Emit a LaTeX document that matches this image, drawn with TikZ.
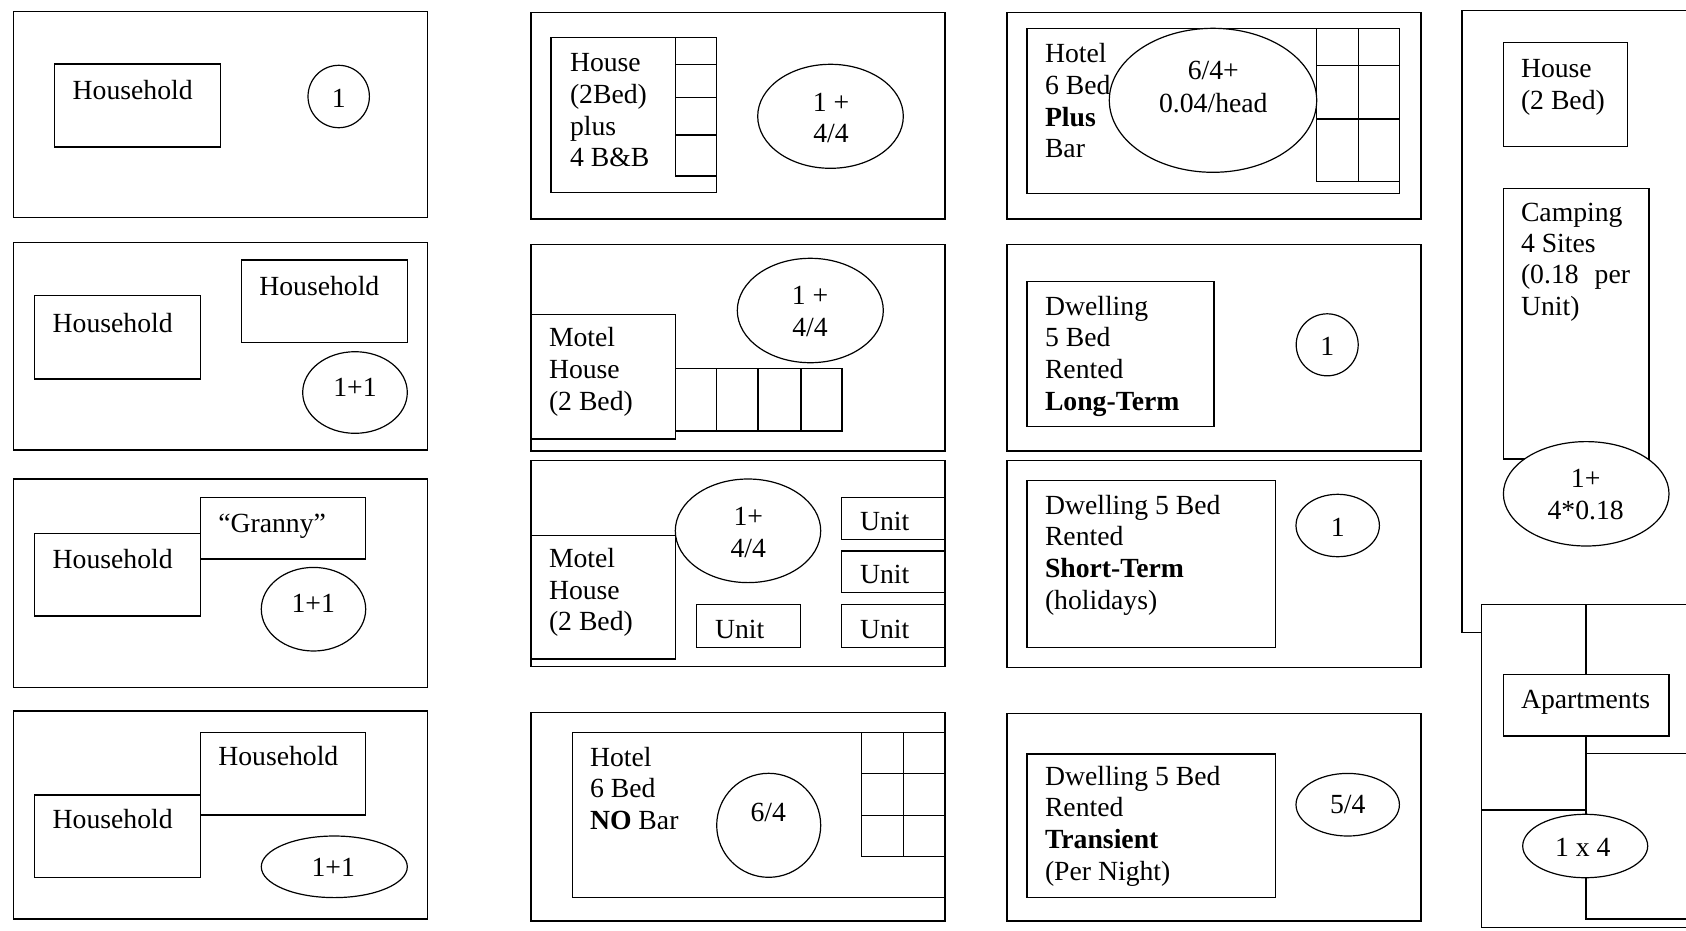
\documentclass[tikz,border=0pt]{standalone}
\usepackage{fontspec}
\setmainfont{Liberation Serif}
% multi-line labels whose reference point is the first baseline
\newcommand{\blockL}[1]{\begin{tabular}[t]{@{}l@{}}#1\end{tabular}}
\newcommand{\blockC}[1]{\begin{tabular}[t]{@{}c@{}}#1\end{tabular}}
\tikzset{
  plan/.style={line width=1.2pt, draw=black},
  room/.style={plan, fill=white},
  oval/.style={plan, fill=white},
  txt/.style={anchor=base west, inner sep=0pt, outer sep=0pt,
              font=\fontsize{27.7}{31.7}\selectfont},
  ctxt/.style={txt, anchor=base},
}
\begin{document}
\begin{tikzpicture}[x=1pt,y=-1pt]
\useasboundingbox (0,0) rectangle (1686,930);
\clip (0,0) rectangle (1686,930);

% ---------- column 1: households ----------
\draw[plan] (13.3,11.5) rectangle (427.3,217.5);
\draw[room] (54.7,64) rectangle (220.3,147);
\node[txt] (hhA) at (72.7,99) {Household};
\filldraw[oval] (338.7,96.5) ellipse [x radius=30.7pt, y radius=31.2pt];
\node[ctxt] (vA) at (338.7,107) {1};

\draw[plan] (13.3,242.7) rectangle (427.3,450);
\draw[room] (34.7,295.7) rectangle (200.3,379);
\node[txt] (hhB1) at (52.7,332.3) {Household};
\draw[room] (241.3,260) rectangle (407.3,342.7);
\node[txt] (hhB2) at (259.3,295.7) {Household};
\filldraw[oval] (355,392.5) ellipse [x radius=52.3pt, y radius=40.8pt];
\node[ctxt] (vB) at (355,396.7) {1+1};

\draw[plan] (13.3,479) rectangle (427.3,687.3);
\draw[room] (34.7,533.7) rectangle (200.3,616);
\node[txt] (hhC) at (52.7,568.3) {Household};
\draw[room] (200.3,497.7) rectangle (365.7,559);
\node[txt] (granny) at (218.3,532.7) {“Granny”};
\filldraw[oval] (313.5,609.2) ellipse [x radius=52.2pt, y radius=41.8pt];
\node[ctxt] (vC) at (313.3,612.7) {1+1};

\draw[plan] (13.3,711) rectangle (427.3,919);
\draw[room] (34.7,795) rectangle (200.3,877.3);
\node[txt] (hhD1) at (52.7,828.3) {Household};
\draw[room] (200.3,732.3) rectangle (365.7,815);
\node[txt] (hhD2) at (218.3,765.7) {Household};
\filldraw[oval] (334.3,866.8) ellipse [x radius=73pt, y radius=30.8pt];
\node[ctxt] (vD) at (333.3,876.7) {1+1};

% ---------- column 2: B&B, motels, hotel ----------
\draw[plan] (531,12.3) rectangle (945,219);
\draw[room] (551,37.7) rectangle (716.7,192.3);
\draw[plan] (675.3,37.7) -- (675.3,176) -- (716.7,176);
\foreach \yy in {64.3,97.7,135} \draw[plan] (675.3,\yy) -- (716.7,\yy);
\node[txt] (bnb) at (570,71.7) {\blockL{House\\(2Bed)\\plus\\4 B\&B}};
\filldraw[oval] (830.5,116.3) ellipse [x radius=72.8pt, y radius=52pt];
\node[ctxt] (vE) at (831,111) {\blockC{1 +\\4/4}};

\draw[plan] (531,244.3) rectangle (945,451);
\draw[room] (531,314.3) rectangle (675.3,439);
\node[txt] (motelA) at (549,346.7) {\blockL{Motel\\House\\(2 Bed)}};
\draw[plan] (675.3,368.3) rectangle (842,431);
\foreach \xx in {716.7,758,801} \draw[plan] (\xx,368.3) -- (\xx,431);
\filldraw[oval] (810.3,310.5) ellipse [x radius=73pt, y radius=52.2pt];
\node[ctxt] (vF) at (810,304.7) {\blockC{1 +\\4/4}};

\draw[plan] (531,460.3) rectangle (945,666.7);
\draw[room] (531,535.3) rectangle (675.3,659);
\node[txt] (motelB) at (549,567.3) {\blockL{Motel\\House\\(2 Bed)}};
\filldraw[oval] (748,530.8) ellipse [x radius=72.7pt, y radius=51.8pt];
\node[ctxt] (vG) at (748.3,525.7) {\blockC{1+\\4/4}};
\draw[room] (841.7,497.7) rectangle (945,539.3);
\node[txt] (unitA) at (860,530) {Unit};
\draw[room] (841.7,551) rectangle (945,592.3);
\node[txt] (unitB) at (860,583.3) {Unit};
\draw[room] (841.7,604.3) rectangle (945,647.3);
\node[txt] (unitC) at (860,638.3) {Unit};
\draw[room] (696.3,604.3) rectangle (800.7,647.3);
\node[txt] (unitD) at (715,638.3) {Unit};

\draw[plan] (531,712.3) rectangle (945,921);
\draw[room] (572.3,732.7) rectangle (945,897.7);
\draw[plan] (861.7,732.7) rectangle (945,856.7);
\draw[plan] (903.3,732.7) -- (903.3,856.7);
\foreach \yy in {773.7,815.3} \draw[plan] (861.7,\yy) -- (945,\yy);
\node[txt] (hotelA) at (590,766) {\blockL{Hotel\\6 Bed\\\textbf{NO} Bar}};
\filldraw[oval] (768.7,825.3) ellipse [x radius=52pt, y radius=52pt];
\node[ctxt] (vH) at (768.3,821.7) {6/4};

% ---------- column 3: hotel with bar, rented dwellings ----------
\draw[plan] (1007,12.3) rectangle (1421,219);
\draw[room] (1027,28.3) rectangle (1399.3,193.3);
\draw[plan] (1316.7,28.3) rectangle (1399.3,181.7);
\draw[plan] (1358.3,28.3) -- (1358.3,181.7);
\foreach \yy in {65.7,119} \draw[plan] (1316.7,\yy) -- (1399.3,\yy);
\node[txt] (hotelB) at (1045,62.7) {\blockL{Hotel\\6 Bed\\\textbf{Plus}\\Bar}};
\filldraw[oval] (1213,100.3) ellipse [x radius=103.7pt, y radius=72pt];
\node[ctxt] (vI1) at (1213.3,79.3) {6/4+};
\node[ctxt] (vI2) at (1213.3,112.7) {0.04/head};

\draw[plan] (1007,244.3) rectangle (1421,451);
\draw[room] (1027,281.7) rectangle (1214,426.7);
\node[txt] (dwA) at (1045,315) {\blockL{Dwelling\\5 Bed\\Rented\\\textbf{Long-Term}}};
\filldraw[oval] (1327.2,344.8) ellipse [x radius=31pt, y radius=31pt];
\node[ctxt] (vJ) at (1327.3,355) {1};

\draw[plan] (1007,460.7) rectangle (1421,667.3);
\draw[room] (1027,480.7) rectangle (1275.3,647.3);
\node[txt] (dwB) at (1045,514) {\blockL{Dwelling 5 Bed\\Rented\\\textbf{Short-Term}\\(holidays)}};
\filldraw[oval] (1337.7,525.5) ellipse [x radius=41.7pt, y radius=31.2pt];
\node[ctxt] (vK) at (1337.7,536.7) {1};

\draw[plan] (1007,713.3) rectangle (1421,921);
\draw[room] (1027,754) rectangle (1275.3,897.7);
\node[txt] (dwC) at (1045,785) {\blockL{Dwelling 5 Bed\\Rented\\\textbf{Transient}\\(Per Night)}};
\filldraw[oval] (1347.7,804.7) ellipse [x radius=51.7pt, y radius=31.3pt];
\node[ctxt] (vL) at (1347.7,813.3) {5/4};

% ---------- column 4: camping ground and apartments ----------
\draw[plan] (1700,10.7) -- (1462,10.7) -- (1462,632.3) -- (1700,632.3);
\draw[room] (1503.3,42.3) rectangle (1627.3,146.7);
\node[txt] (houseC) at (1521,77.7) {\blockL{House\\(2 Bed)}};
\draw[room] (1503.3,188.3) rectangle (1649,459);
\node[txt, font=\fontsize{27.7}{31.1}\selectfont] (camp) at (1521,221.7)
  {\blockL{Camping\\4 Sites\\(0.18\hspace{16pt}per\\Unit)}};
\filldraw[oval] (1586.2,493.8) ellipse [x radius=82.8pt, y radius=52.2pt];
\node[ctxt] (vM) at (1585.7,487.3) {\blockC{1+\\4*0.18}};

\draw[room] (1481.7,604.3) rectangle (1700,927.3);
\draw[plan] (1586,604.3) -- (1586,919) -- (1700,919);
\draw[plan] (1481.7,810) -- (1586,810);
\draw[plan] (1586,753.3) -- (1700,753.3);
\draw[room] (1503.3,674.3) rectangle (1669,736);
\node[txt] (apts) at (1521,708.3) {Apartments};
\filldraw[oval] (1585.2,846) ellipse [x radius=62.5pt, y radius=31.7pt];
\node[ctxt] (vN) at (1582.7,856.7) {1 x 4};
\end{tikzpicture}
\end{document}
